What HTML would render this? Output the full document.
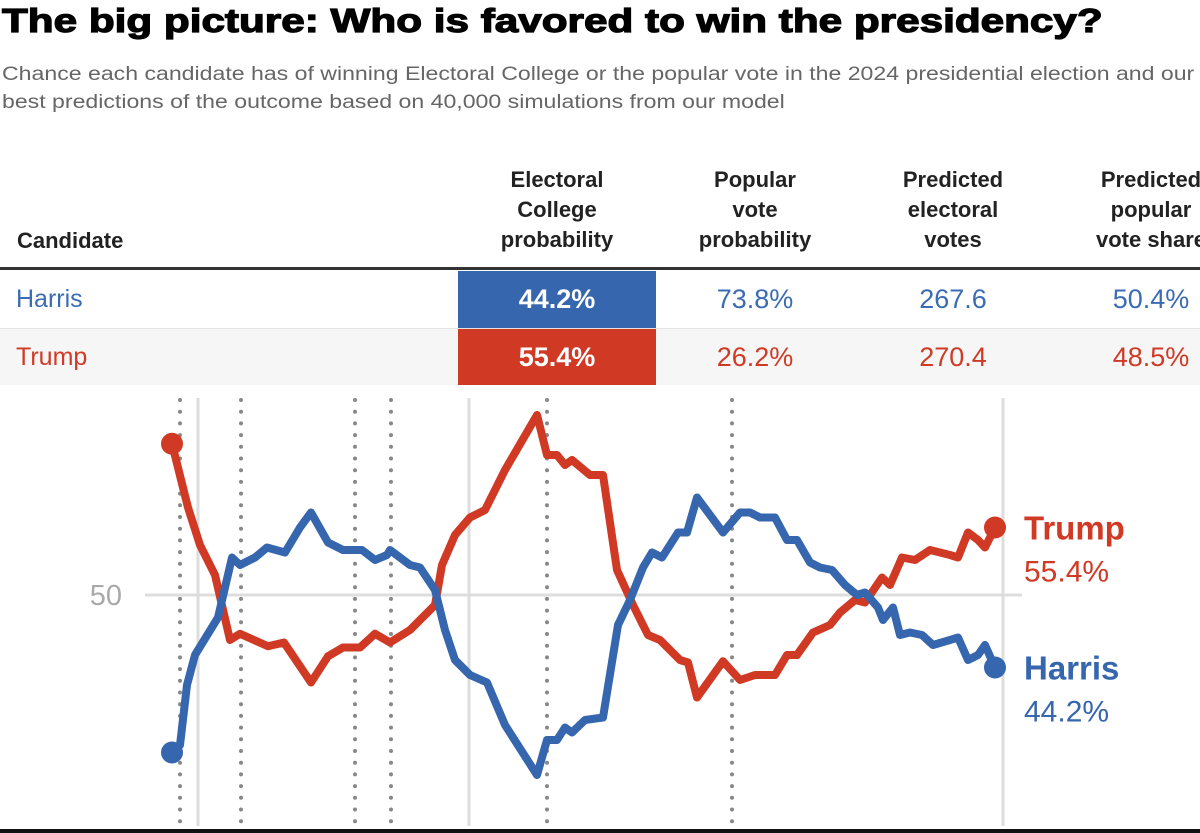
<!DOCTYPE html>
<html><head><meta charset="utf-8"><style>
body{margin:0;width:1200px;height:833px;overflow:hidden;background:#fff;font-family:"Liberation Sans",sans-serif;position:relative}
.a{position:absolute}
.title{left:2px;top:2px;font-size:33px;font-weight:900;color:#000;-webkit-text-stroke:1.2px #000;transform:scaleX(1.28);transform-origin:0 0;white-space:nowrap}
.sub{left:2px;top:61px;font-size:19px;color:#666;line-height:28px;white-space:nowrap;transform:scaleX(1.215);transform-origin:0 0}
.hd{font-size:22px;font-weight:bold;color:#222;text-align:center;line-height:30px;width:200px}
.cell{font-size:27px;text-align:center;width:198px;line-height:57px}
</style></head><body>
<div class="a title">The big picture: Who is favored to win the presidency?</div>
<div class="a sub">Chance each candidate has of winning Electoral College or the popular vote in the 2024 presidential election and our<br>best predictions of the outcome based on 40,000 simulations from our model</div>
<div class="a hd" style="left:17px;top:226px;text-align:left">Candidate</div>
<div class="a hd" style="left:457px;top:165px">Electoral<br>College<br>probability</div>
<div class="a hd" style="left:655px;top:165px">Popular<br>vote<br>probability</div>
<div class="a hd" style="left:853px;top:165px">Predicted<br>electoral<br>votes</div>
<div class="a hd" style="left:1051px;top:165px">Predicted<br>popular<br>vote share</div>
<div class="a" style="left:0;top:267px;width:1200px;height:3px;background:#333"></div>
<div class="a" style="left:0;top:328px;width:1200px;height:1px;background:#e4e4e4"></div>
<div class="a" style="left:0;top:329px;width:1200px;height:56px;background:#f6f6f6"></div>
<div class="a" style="left:458px;top:271px;width:198px;height:57px;background:#3566ae"></div>
<div class="a" style="left:458px;top:329px;width:198px;height:56px;background:#d03a25"></div>
<div class="a cell" style="left:16px;top:271px;text-align:left;color:#3b6cb3;font-size:25px">Harris</div>
<div class="a cell" style="left:458px;top:271px;color:#fff;font-weight:bold">44.2%</div>
<div class="a cell" style="left:656px;top:271px;color:#3b6cb3">73.8%</div>
<div class="a cell" style="left:854px;top:271px;color:#3b6cb3">267.6</div>
<div class="a cell" style="left:1052px;top:271px;color:#3b6cb3">50.4%</div>
<div class="a cell" style="left:16px;top:329px;text-align:left;color:#d03a25;font-size:25px">Trump</div>
<div class="a cell" style="left:458px;top:329px;color:#fff;font-weight:bold">55.4%</div>
<div class="a cell" style="left:656px;top:329px;color:#d03a25">26.2%</div>
<div class="a cell" style="left:854px;top:329px;color:#d03a25">270.4</div>
<div class="a cell" style="left:1052px;top:329px;color:#d03a25">48.5%</div>
<svg class="a" style="left:0;top:0" width="1200" height="833" id="chart"></svg>
<div class="a" style="left:0;top:829px;width:1200px;height:4px;background:#111"></div>
<script>
const tDays=[0,16,28,43,58,68,96,112,139,156,171,188,203,218,238,263,270,283,298,313,333,365,375,385,393,400,418,431,445,461,476,488,508,516,525,551,568,583,603,615,625,641,658,668,683,693,710,718,730,743,758,778,786,796,806,813,823];
const trump=[62.1,57.0,54.0,51.6,46.4,46.9,45.9,46.2,43.0,45.1,45.8,45.8,46.9,46.2,47.2,49.2,52.4,54.8,56.2,56.8,60.0,64.4,61.2,61.2,60.4,60.8,59.6,59.6,52.0,49.2,46.8,46.4,44.8,44.6,41.8,44.7,43.2,43.6,43.6,45.2,45.2,47.0,47.6,48.6,49.6,49.4,51.4,50.8,53.0,52.8,53.6,53.2,53.0,55.0,54.4,53.8,55.4];
const hDays=[0,8,15,23,46,60,68,83,95,113,128,139,156,171,190,203,215,218,238,248,263,273,283,298,315,333,365,375,385,393,400,413,431,446,458,471,480,490,506,515,525,538,551,568,578,588,603,615,625,638,648,660,673,685,693,706,711,721,728,738,750,761,778,786,796,806,813,823];
const harris=[37.4,38.0,42.8,45.2,48.2,53.0,52.4,53.0,53.8,53.4,55.4,56.6,54.2,53.6,53.6,52.8,53.2,53.6,52.4,52.2,50.4,47.2,44.8,43.6,43.0,39.6,35.6,38.4,38.4,39.4,39.0,40.0,40.2,47.6,49.6,52.2,53.4,53.0,55.0,55.0,57.8,56.4,55.0,56.6,56.6,56.2,56.2,54.4,54.4,52.6,52.2,52.0,50.8,50.0,50.2,49.0,48.0,49.0,46.8,47.0,46.8,46.0,46.4,46.6,44.8,45.2,46.0,44.2];
const eventDays=[8,69,183,219,375,560];
const gridDays=[26,297,831];
const yTicks=[50];
const svg=document.getElementById('chart');const NS='http://www.w3.org/2000/svg';
const x=d=>172+d;const y=v=>595-(v-50)*12.5;
function mk(t,a){const e=document.createElementNS(NS,t);for(const k in a)e.setAttribute(k,a[k]);svg.appendChild(e);return e;}
yTicks.forEach(t=>{
const l=mk('line',{x1:145,x2:1022,y1:y(t),y2:y(t),stroke:'#ddd','stroke-width':3});


const tx=mk('text',{x:122,y:y(t)+10,'text-anchor':'end','font-size':29,fill:'#aaa','font-family':'Liberation Sans, sans-serif'});tx.textContent=t;


});
gridDays.forEach(d=>{const l=mk('line',{x1:x(d),x2:x(d),y1:398,y2:826,stroke:'#ddd','stroke-width':3});

});
eventDays.forEach(d=>{const l=mk('line',{x1:x(d),x2:x(d),y1:400,y2:830,stroke:'#888','stroke-width':4,'stroke-dasharray':'0 11.7','stroke-linecap':'round'});

});
function series(days,vals,col,name){
const p=mk('polyline',{points:days.map((d,i)=>x(d)+','+y(vals[i])).join(' '),fill:'none',stroke:col,'stroke-width':8,'stroke-linejoin':'round','stroke-linecap':'round'});


const c0=mk('circle',{cx:x(days[0]),cy:y(vals[0]),r:11,fill:col});


const n=days.length-1;
const c1=mk('circle',{cx:x(days[n]),cy:y(vals[n]),r:11,fill:col});


const lb=mk('text',{x:1024,y:y(vals[n])+12,'font-size':33,'font-weight':'bold',fill:col,'font-family':'Liberation Sans, sans-serif'});lb.textContent=name==='trump'?'Trump':'Harris';


const vl=mk('text',{x:1024,y:y(vals[n])+54,'font-size':30,fill:col,'font-family':'Liberation Sans, sans-serif'});vl.textContent=vals[n].toFixed(1)+'%';


}
series(tDays,trump,'#d03a25','trump');
series(hDays,harris,'#3566ae','harris');
</script>
</body></html>
